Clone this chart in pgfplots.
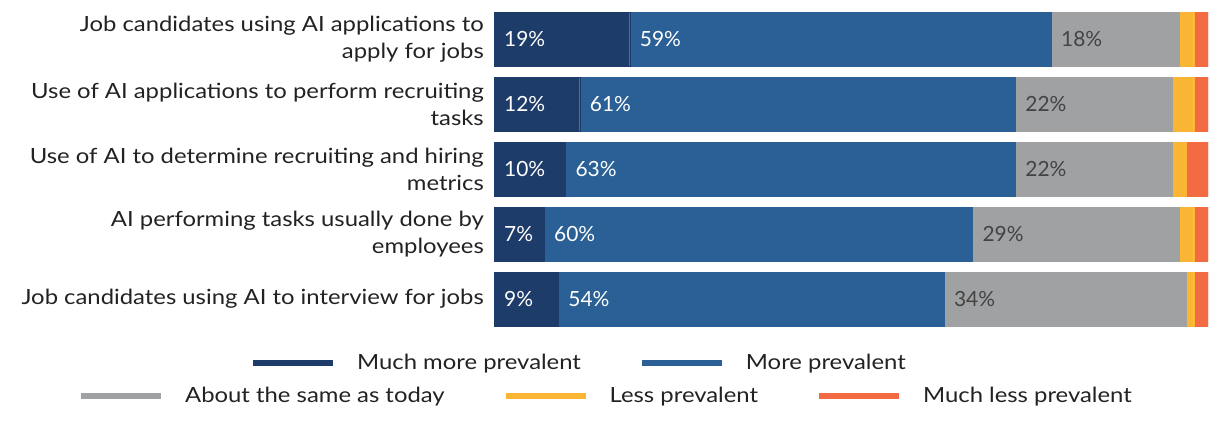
\documentclass[border=0pt]{standalone}
\usepackage{fontspec}
\setmainfont{Lato}[FakeStretch=1.14]
\newfontfamily\numfont{Lato}
\usepackage{pgfplots}
\pgfplotsset{compat=1.18}
\definecolor{cNavy}{HTML}{1E3C6A}
\definecolor{cBlue}{HTML}{2A6095}
\definecolor{cGray}{HTML}{A0A1A3}
\definecolor{cYellow}{HTML}{FBB535}
\definecolor{cOrange}{HTML}{F26B43}
\definecolor{cText}{HTML}{222222}
\newcommand{\chartfont}{\fontsize{21}{27}\selectfont}
\begin{document}
\begin{tikzpicture}[x=1bp,y=1bp]
\useasboundingbox (0,0) rectangle (1220,430);
\pgfplotsset{
  base/.style={at={(494bp,98.5bp)}, anchor=south west, width=714bp, height=325bp,
    scale only axis, xmin=0, xmax=100, ymin=-0.5, ymax=4.5, y dir=reverse},
  legax/.style={at={(0bp,0bp)}, anchor=south west, width=1220bp, height=430bp,
    scale only axis, hide axis, xmin=0, xmax=1, ymin=0, ymax=1,
    legend image code/.code={\draw[##1, line width=6bp] (0bp,0bp) -- (80bp,0bp); \path[draw=none] (0bp,0bp) -- (104bp,0bp);},
    legend style={draw=none, fill=none, inner sep=0pt, anchor=west,
      nodes={inner sep=0pt, anchor=west, font=\chartfont, text=cText},
      /tikz/every even column/.append style={column sep=58bp}}}
}
\begin{axis}[base, xbar stacked, bar width=54bp,
  axis line style={draw=none}, xtick=\empty, ytick={0,1,2,3,4},
  major tick length=0pt,
  yticklabels={{Job candidates using AI applications to\\apply for jobs},
               {Use of AI applications to perform recruiting\\tasks},
               {Use of AI to determine recruiting and hiring\\metrics},
               {AI performing tasks usually done by\\employees},
               {Job candidates using AI to interview for jobs}},
  yticklabel style={align=right, font=\chartfont, text=cText, inner sep=0pt, xshift=-10bp}]
\addplot[fill=cNavy, draw=cNavy, line width=0.3bp] coordinates {(19,0) (12,1) (10,2) (7,3) (9,4)};
\addplot[fill=cBlue, draw=cBlue, line width=0.3bp] coordinates {(59,0) (61,1) (63,2) (60,3) (54,4)};
\addplot[fill=cGray, draw=cGray, line width=0.3bp] coordinates {(18,0) (22,1) (22,2) (29,3) (34,4)};
\addplot[fill=cYellow, draw=cYellow, line width=0.3bp] coordinates {(2,0) (3,1) (2,2) (2,3) (1,4)};
\addplot[fill=cOrange, draw=cOrange, line width=0.3bp] coordinates {(2,0) (2,1) (3,2) (2,3) (2,4)};
\end{axis}
\begin{axis}[base, hide axis]
\addplot[draw=none, nodes near coords, point meta=explicit symbolic,
  every node near coord/.style={anchor=west, inner sep=0pt, xshift=10bp, text=white, font=\numfont\chartfont}]
  coordinates {(0,0)[19\%] (0,1)[12\%] (0,2)[10\%] (0,3)[7\%] (0,4)[9\%]};
\addplot[draw=none, nodes near coords, point meta=explicit symbolic,
  every node near coord/.style={anchor=west, inner sep=0pt, xshift=10bp, text=white, font=\numfont\chartfont}]
  coordinates {(19,0)[59\%] (12,1)[61\%] (10,2)[63\%] (7,3)[60\%] (9,4)[54\%]};
\addplot[draw=none, nodes near coords, point meta=explicit symbolic,
  every node near coord/.style={anchor=west, inner sep=0pt, xshift=10bp, text=cText!85, font=\numfont\chartfont}]
  coordinates {(78,0)[18\%] (73,1)[22\%] (73,2)[22\%] (67,3)[29\%] (63,4)[34\%]};
\end{axis}
\begin{axis}[legax, legend columns=2, legend style={at={(0.2049,0.1558)}}]
\addlegendimage{cNavy}\addlegendentry{Much more prevalent}
\addlegendimage{cBlue}\addlegendentry{More prevalent}
\end{axis}
\begin{axis}[legax, legend columns=3, legend style={at={(0.0639,0.0790)}}]
\addlegendimage{cGray}\addlegendentry{About the same as today}
\addlegendimage{cYellow}\addlegendentry{Less prevalent}
\addlegendimage{cOrange}\addlegendentry{Much less prevalent}
\end{axis}
\end{tikzpicture}
\end{document}
